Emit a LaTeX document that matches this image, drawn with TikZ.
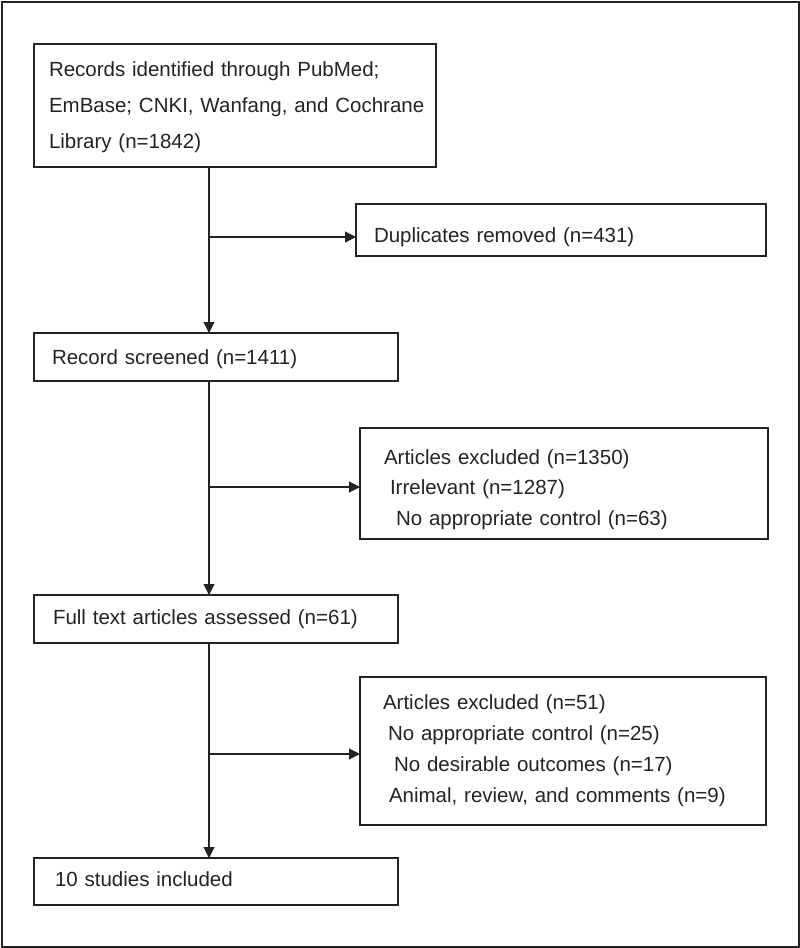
\documentclass[tikz,border=0pt]{standalone}
\usepackage{fontspec}
\setmainfont{Liberation Sans}
\usetikzlibrary{arrows.meta}
\definecolor{ink}{RGB}{35,35,35}
\newcommand{\dnshift}[2]{\raisebox{-#1}[\height][\depth]{#2}}
\begin{document}
\begin{tikzpicture}[x=1pt,y=-1pt,
  box/.style={draw=ink, text=ink, line width=1.4pt, rectangle, anchor=north west,
    align=left, inner ysep=0pt, outer sep=0pt},
  fbody/.style={font=\fontsize{20.5}{36}\selectfont},
  fbodytight/.style={font=\fontsize{20.5}{30.5}\selectfont},
  fbodymid/.style={font=\fontsize{20.5}{31}\selectfont},
  arr/.style={draw=ink, line width=1.1pt, -{Triangle[length=11pt,width=11pt]}}]
\useasboundingbox (0,0) rectangle (800,948);
\draw[ink, line width=2pt] (1.5,1.5) rectangle (798.5,946.5);

\node[box, fbody, minimum width=402pt, minimum height=123pt, inner xsep=15pt, text width=372pt]
  (ident) at (34,44) {\dnshift{2pt}{\parbox{372pt}{\mbox{Records identified through PubMed;}\\\mbox{EmBase; CNKI, Wanfang, and Cochrane}\\\mbox{Library (n=1842)}}}};
\node[box, fbody, minimum width=410pt, minimum height=52pt, inner xsep=18pt, text width=374pt]
  (dup) at (356,204) {\dnshift{7pt}{Duplicates removed (n=431)}};
\node[box, fbody, minimum width=364pt, minimum height=48pt, inner xsep=18pt, text width=328pt]
  (screen) at (34,333) {\dnshift{2pt}{Record screened (n=1411)}};
\node[box, fbodytight, minimum width=408pt, minimum height=111pt, inner xsep=24pt, text width=360pt]
  (exc1) at (360,428) {\dnshift{6pt}{\parbox{360pt}{Articles excluded (n=1350)\\\hspace*{6pt}Irrelevant (n=1287)\\\hspace*{12pt}No appropriate control (n=63)}}};
\node[box, fbody, minimum width=364pt, minimum height=48pt, inner xsep=19pt, text width=326pt]
  (full) at (34,595) {Full text articles assessed (n=61)};
\node[box, fbodymid, minimum width=406pt, minimum height=148pt, inner xsep=23pt, text width=360pt]
  (exc2) at (360,677) {Articles excluded (n=51)\\\hspace*{5pt}No appropriate control (n=25)\\\hspace*{11pt}No desirable outcomes (n=17)\\\hspace*{6pt}Animal, review, and comments (n=9)};
\node[box, fbody, minimum width=364pt, minimum height=47pt, inner xsep=21pt, text width=322pt]
  (incl) at (34,858) {\dnshift{-2pt}{10 studies included}};

\coordinate (t) at (209,0);
\coordinate (b1) at (209,237);
\coordinate (b2) at (209,487);
\coordinate (b3) at (209,754);

\draw[arr] (ident.south -| t) -- (screen.north -| t);
\draw[arr] (screen.south -| t) -- (full.north -| t);
\draw[arr] (full.south -| t) -- (incl.north -| t);
\draw[arr] (b1) -- (b1 -| dup.west);
\draw[arr] (b2) -- (b2 -| exc1.west);
\draw[arr] (b3) -- (b3 -| exc2.west);
\end{tikzpicture}
\end{document}
